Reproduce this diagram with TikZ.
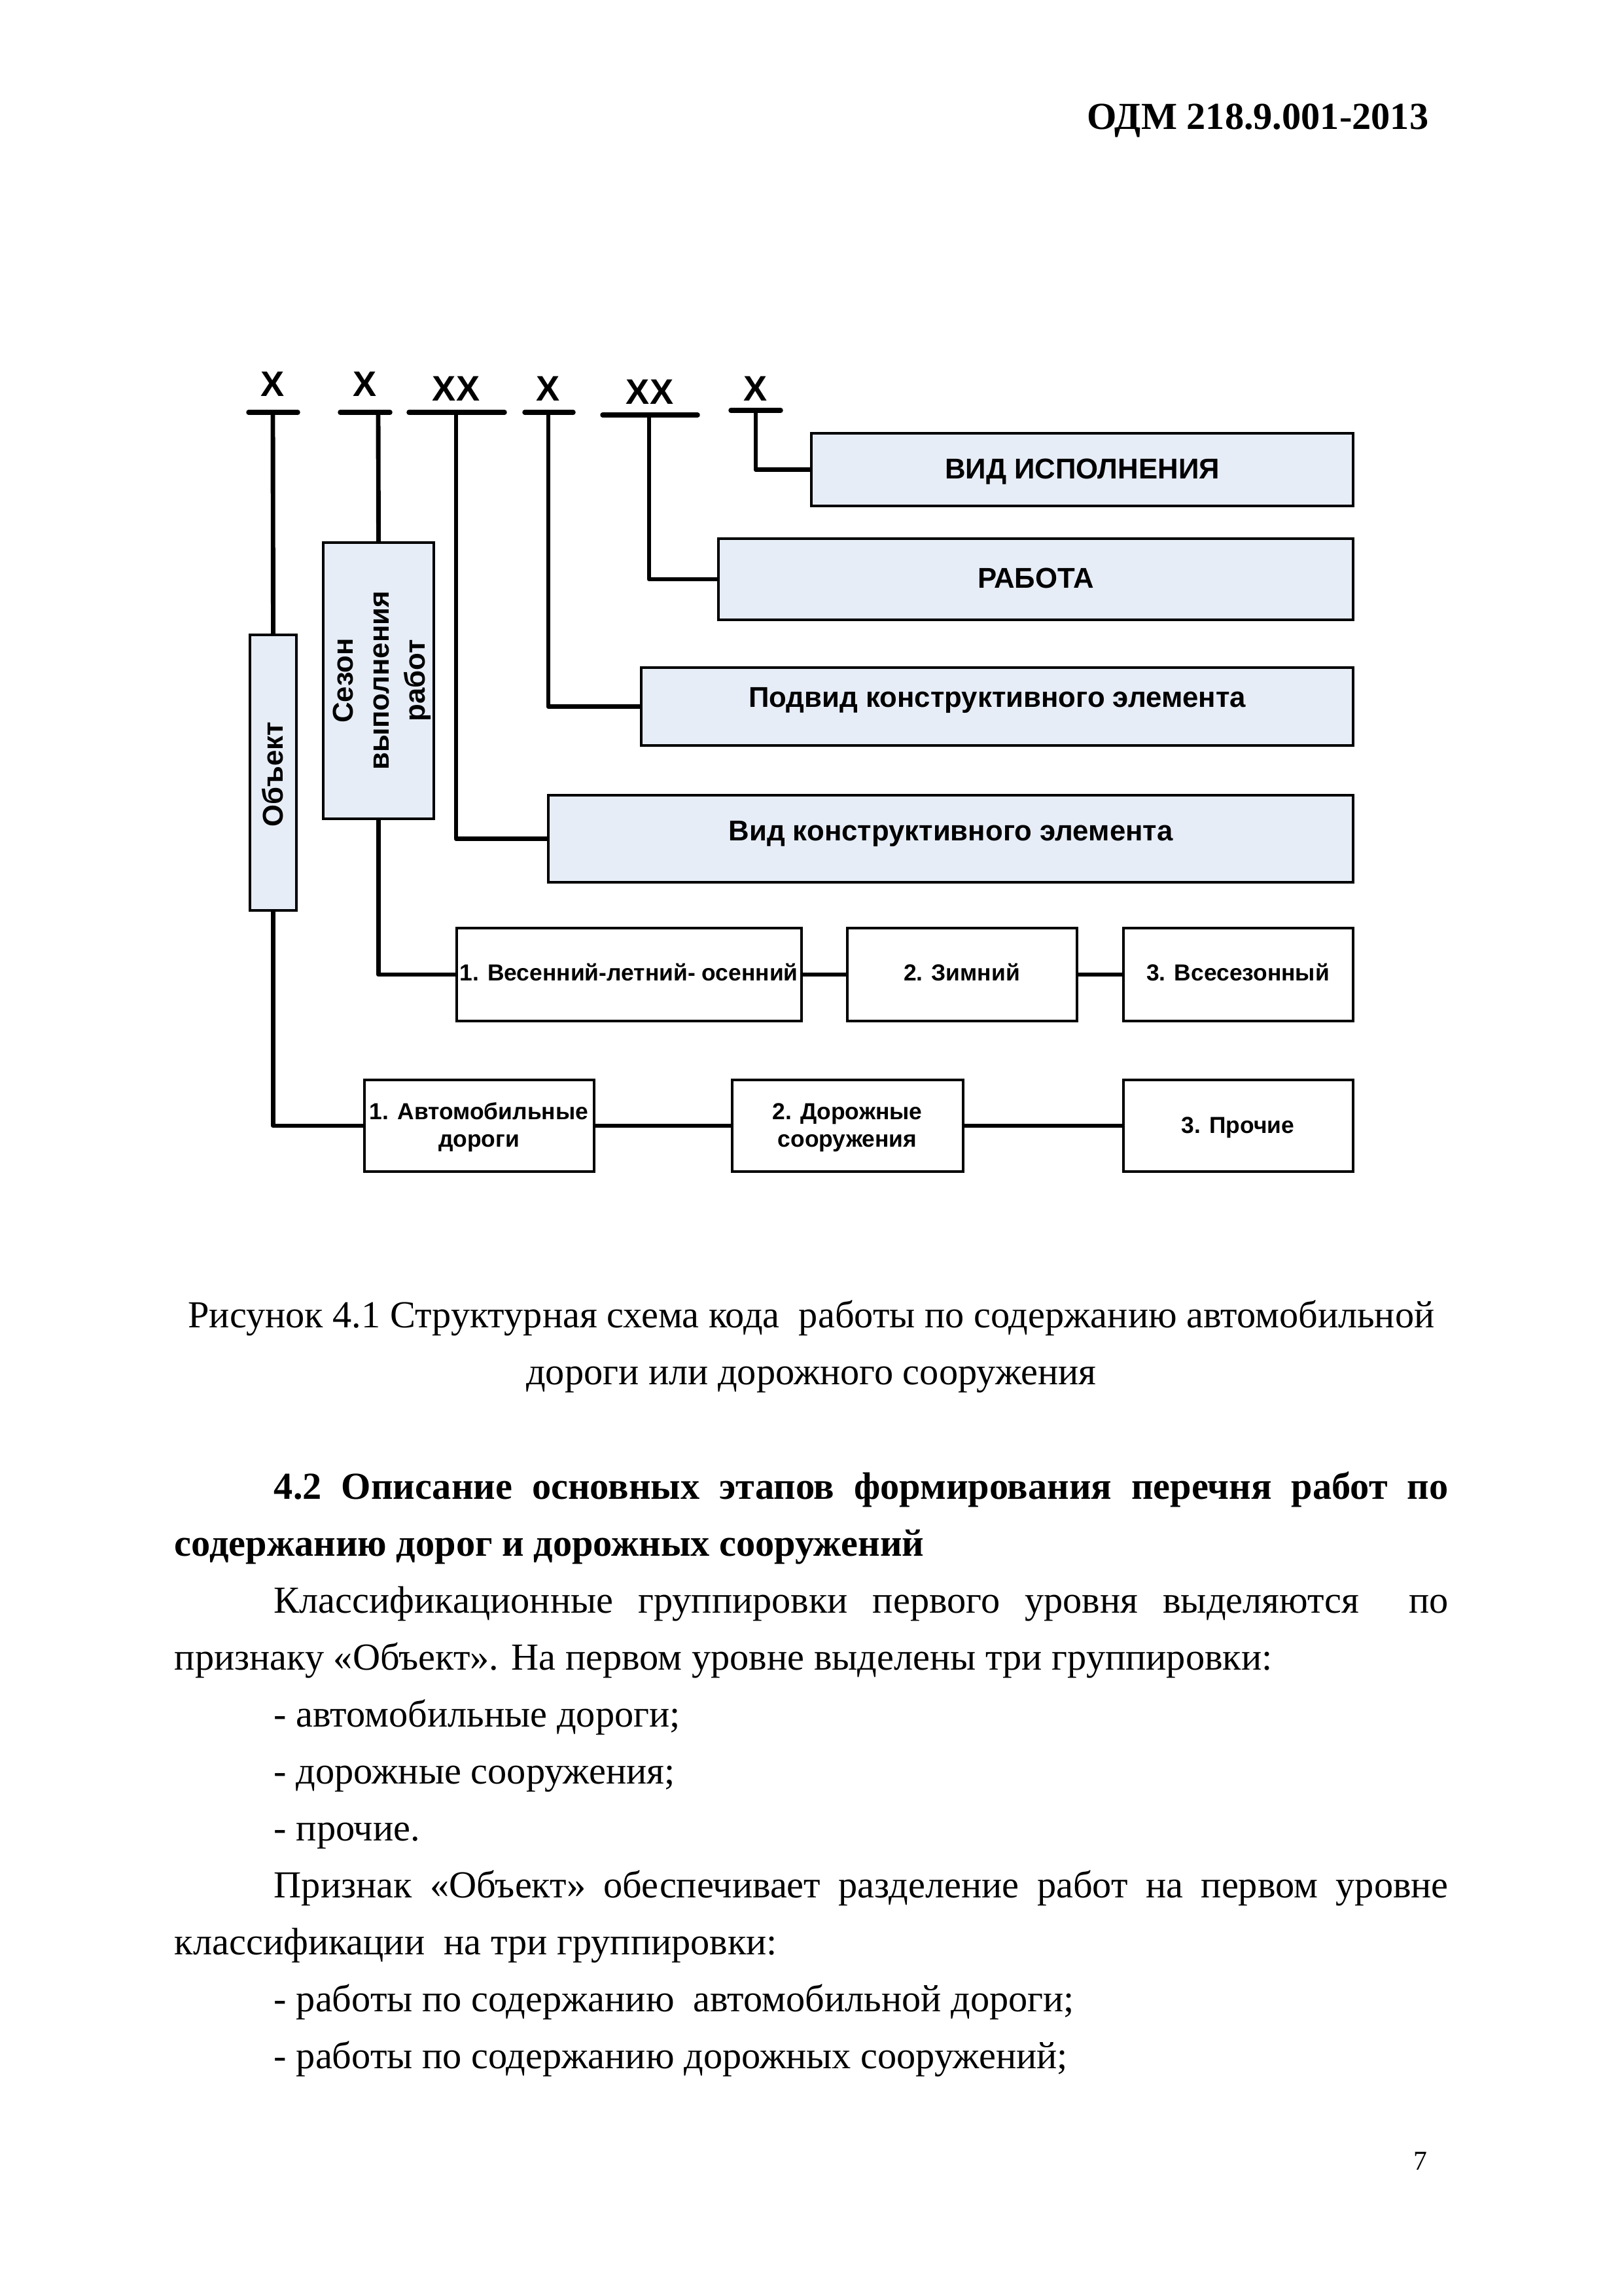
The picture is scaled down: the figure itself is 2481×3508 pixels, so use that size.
\documentclass[tikz,border=0pt]{standalone}
\usepackage{fontspec}
\setmainfont{Liberation Serif}
\newfontfamily\arialf{Liberation Sans}
\usetikzlibrary{fit}
\definecolor{boxblue}{RGB}{231,237,247}
\newlength\pxunit
\setlength\pxunit{0.23994pt}
\begin{document}
\begin{tikzpicture}[x=0.23994pt,y=-0.23994pt,
  conn/.style={line width=1.65pt, line join=round},
  bar/.style={line width=1.8pt, line cap=round},
  box/.style={draw, line width=1pt, inner sep=0pt},
  bluebox/.style={box, fill=boxblue},
  lbl/.style={font=\arialf\bfseries\fontsize{10.5pt}{12.6pt}\selectfont, inner sep=0pt, anchor=base},
  rlbl/.style={lbl, rotate=90},
  slbl/.style={font=\arialf\bfseries\fontsize{8.5pt}{10.3pt}\selectfont, inner sep=0pt, anchor=base},
  xl/.style={font=\arialf\bfseries\fontsize{13pt}{16pt}\selectfont, inner sep=0pt, anchor=base},
  body/.style={font=\fontsize{14pt}{21pt}\selectfont, inner sep=0pt, anchor=base west},
]
\useasboundingbox[fill=white] (0,0) rectangle (2481,3508);

% header
\node[font=\bfseries\fontsize{14pt}{16pt}\selectfont, anchor=base east, inner sep=0pt] (hdr) at (2184,197) {ОДМ 218.9.001-2013};

% code letters
\node[xl] (x1) at (417,605) {X};
\node[xl] (x2) at (558,605) {X};
\node[xl] (x3) at (697,612) {XX};
\node[xl] (x4) at (838,612) {X};
\node[xl] (x5) at (993,617) {XX};
\node[xl] (x6) at (1155,612) {X};

% bars
\coordinate (b1l) at (380,630);  \coordinate (b1r) at (455,630);  \coordinate (t1) at (417,630);
\coordinate (b2l) at (520,630);  \coordinate (b2r) at (596,630);  \coordinate (t2) at (578,630);
\coordinate (b3l) at (625,630);  \coordinate (b3r) at (771,630);  \coordinate (t3) at (697,630);
\coordinate (b4l) at (802,630);  \coordinate (b4r) at (876,630);  \coordinate (t4) at (838,630);
\coordinate (b5l) at (921,634);  \coordinate (b5r) at (1066,634); \coordinate (t5) at (992,634);
\coordinate (b6l) at (1117,627); \coordinate (b6r) at (1193,627); \coordinate (t6) at (1155,627);
\foreach \i in {1,...,6} { \draw[bar] (b\i l) -- (b\i r); }

% blue boxes
\node[bluebox, fit={(1240,662) (2068,773)}] (vidisp) {};
\node[bluebox, fit={(1098,823) (2068,947)}] (rabota) {};
\node[bluebox, fit={(980,1020) (2068,1139)}] (podvid) {};
\node[bluebox, fit={(838,1215) (2068,1348)}] (vidk) {};
\node[bluebox, fit={(494,829) (663,1251)}] (sezon) {};
\node[bluebox, fit={(382,970) (453,1391)}] (obj) {};

% white boxes
\node[box, fit={(698,1418) (1225,1560)}] (ves) {};
\node[box, fit={(1295,1418) (1646,1560)}] (zim) {};
\node[box, fit={(1717,1418) (2068,1560)}] (vses) {};
\node[box, fit={(557,1650) (908,1790)}] (avto) {};
\node[box, fit={(1119,1650) (1472,1790)}] (dor) {};
\node[box, fit={(1717,1650) (2068,1790)}] (proch) {};

% texts in boxes
\node[lbl] (vidisp-t) at (1654,731) {ВИД ИСПОЛНЕНИЯ};
\node[lbl] (rabota-t) at (1583,898) {РАБОТА};
\node[lbl] (podvid-t) at (1524,1080) {Подвид конструктивного элемента};
\node[lbl] (vidk-t) at (1453,1284) {Вид конструктивного элемента};
\node[rlbl] (obj-t) at (432,1183) {Объект};
\node[rlbl] (sez-t1) at (539,1040) {Сезон};
\node[rlbl] (sez-t2) at (594,1040) {выполнения};
\node[rlbl] (sez-t3) at (649,1040) {работ};

\node[slbl] (ves-t) at (961,1498) {1. Весенний-летний- осенний};
\node[slbl] (zim-t) at (1470,1498) {2. Зимний};
\node[slbl] (vses-t) at (1892,1498) {3. Всесезонный};
\node[slbl] (avto-t1) at (732,1710) {1. Автомобильные};
\node[slbl] (avto-t2) at (732,1752) {дороги};
\node[slbl] (dor-t1) at (1295,1710) {2. Дорожные};
\node[slbl] (dor-t2) at (1295,1752) {сооружения};
\node[slbl] (proch-t) at (1892,1731) {3. Прочие};

% connectors
\draw[conn] (t1) -- (obj.north);
\draw[conn] (obj.south) |- (avto.west);
\draw[conn] (t2) -- (sezon.north);
\draw[conn] (sezon.south) |- (ves.west);
\draw[conn] (t3) |- (vidk.west);
\draw[conn] (t4) |- (podvid.west);
\draw[conn] (t5) |- (rabota.west);
\draw[conn] (t6) |- (vidisp.west);
\draw[conn] (ves.east) -- (zim.west);
\draw[conn] (zim.east) -- (vses.west);
\draw[conn] (avto.east) -- (dor.west);
\draw[conn] (dor.east) -- (proch.west);

% caption
\node[body, anchor=base] (cap1) at (1240,2028) {Рисунок 4.1 Структурная схема кода\ \ работы по содержанию автомобильной};
\node[body, anchor=base] (cap2) at (1240,2115) {дороги или дорожного сооружения};

% body text
\node[body] (l1) at (418,2290) {\bfseries\makebox[1795\pxunit][s]{4.2 Описание основных этапов формирования перечня работ по}};
\node[body] (l2) at (266,2377) {\bfseries содержанию дорог и дорожных сооружений};
\node[body] (l3) at (418,2464) {\makebox[1795\pxunit][s]{Классификационные группировки первого уровня выделяются\ \ по}};
\node[body] (l4) at (266,2551) {признаку «Объект». На первом уровне выделены три группировки:};
\node[body] (l5) at (418,2638) {- автомобильные дороги;};
\node[body] (l6) at (418,2725) {- дорожные сооружения;};
\node[body] (l7) at (418,2812) {- прочие.};
\node[body] (l8) at (418,2899) {\makebox[1795\pxunit][s]{Признак «Объект» обеспечивает разделение работ на первом уровне}};
\node[body] (l9) at (266,2986) {классификации\ \ на три группировки:};
\node[body] (l10) at (418,3073) {- работы по содержанию\ \ автомобильной дороги;};
\node[body] (l11) at (418,3160) {- работы по содержанию дорожных сооружений;};

\node[font=\fontsize{10pt}{12pt}\selectfont, anchor=base east, inner sep=0pt] (pg) at (2182,3315) {7};
\end{tikzpicture}
\end{document}
